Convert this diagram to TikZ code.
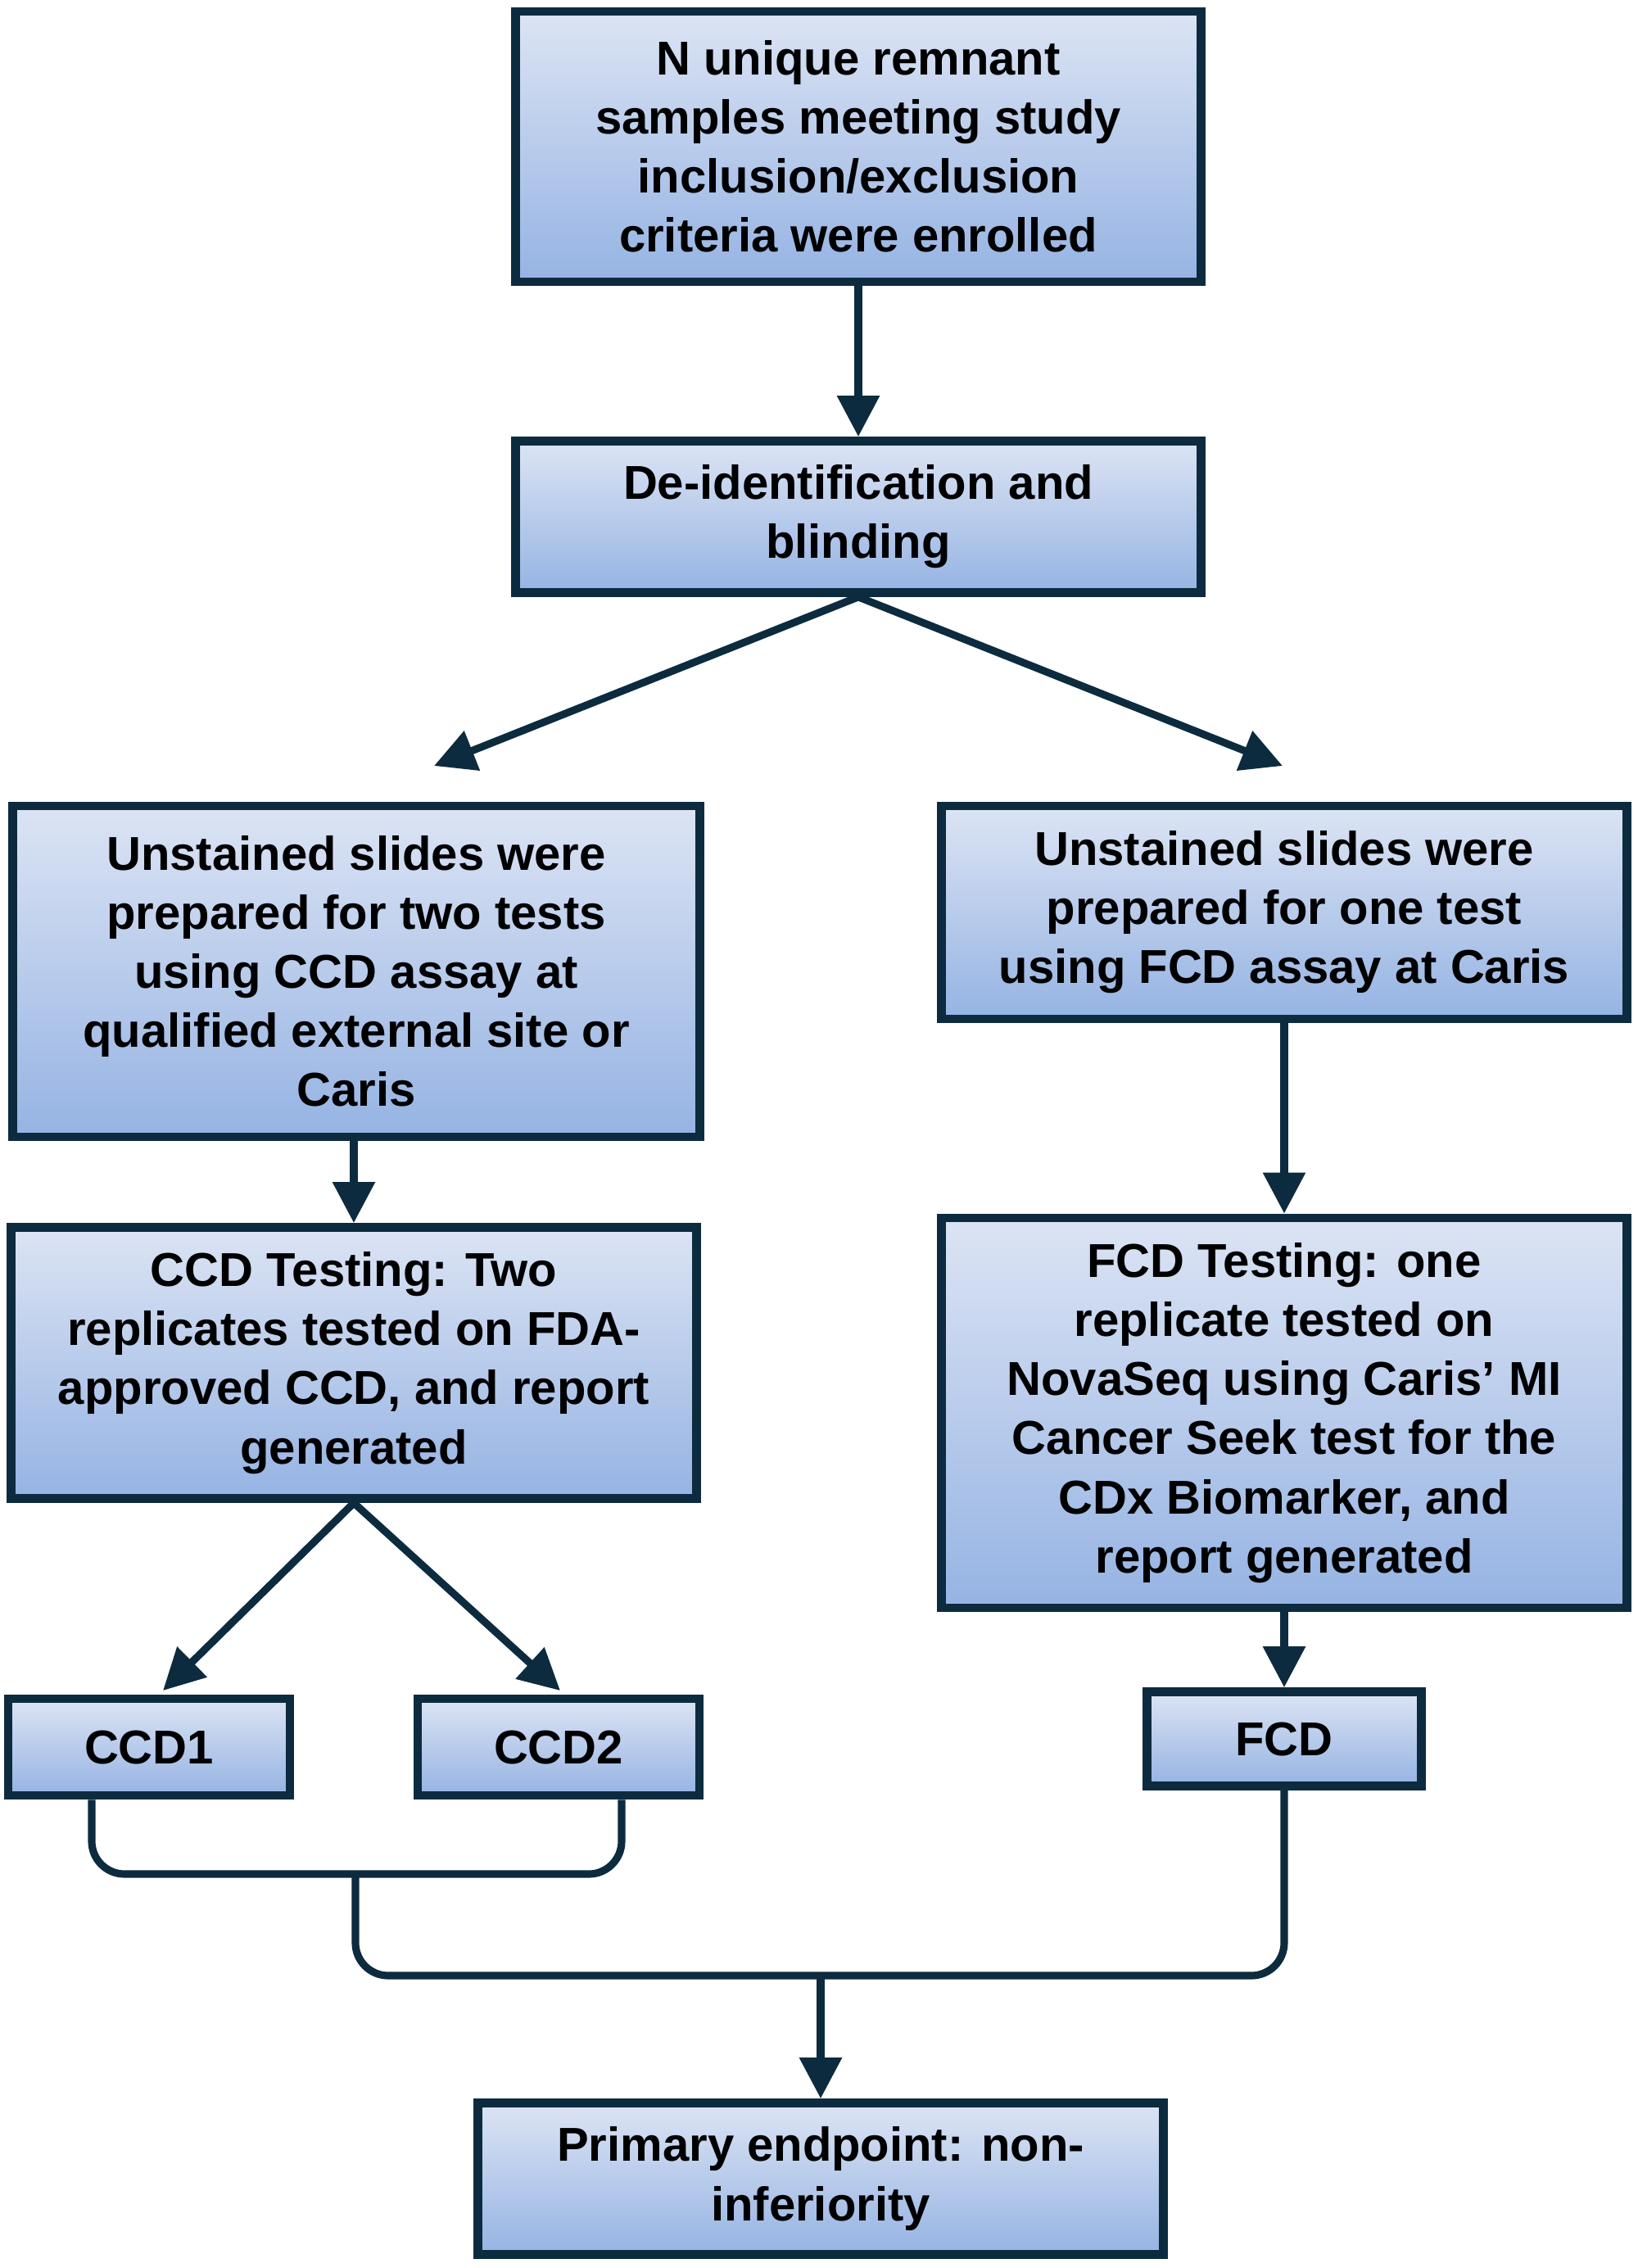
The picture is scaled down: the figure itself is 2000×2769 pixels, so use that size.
\documentclass[tikz,border=0pt]{standalone}
\usepackage{fontspec}
\setmainfont{Liberation Sans}
\usetikzlibrary{positioning}
\usetikzlibrary{arrows.meta}
\usetikzlibrary{calc}
\definecolor{navy}{HTML}{0D2B3E}
\definecolor{boxtop}{HTML}{DCE4F4}
\definecolor{boxbot}{HTML}{95B3E3}
\tikzset{>={Triangle[length=5mm,width=5mm]}}
\tikzstyle{stepnode}=[draw=navy,line width=3pt,shape=rectangle,top color=boxtop,bottom color=boxbot,align=center,font=\fontsize{16.5}{20.5}\selectfont\bfseries,inner sep=0pt]
\tikzstyle{taro}=[->,line width=2.6pt,color=navy]
\tikzstyle{joinline}=[line width=2.6pt,color=navy,rounded corners=4mm]
\begin{document}
\begin{tikzpicture}[x=0.01cm,y=-0.01cm]
	\useasboundingbox (0,0) rectangle (2000,2769);

	% Top part
	\node[stepnode,minimum width=8.36cm,minimum height=3.3cm] (enrol) at (1048,179) {N unique remnant\\samples meeting study\\inclusion/exclusion\\criteria were enrolled};
	\node[stepnode,minimum width=8.36cm,minimum height=1.85cm] (blind) at (1048,631) {De-identification and\\blinding};
	\draw[taro] (enrol) -- (blind);
	\coordinate (lsplit) at (530,935);
	\coordinate (rsplit) at (1566,935);
	\draw[taro] (blind.south) -- (lsplit);
	\draw[taro] (blind.south) -- (rsplit);

	% CCD side
	\node[stepnode,minimum width=8.38cm,minimum height=4.04cm] (ccdprep) at (435,1186) {Unstained slides were\\prepared for two tests\\using CCD assay at\\qualified external site or\\Caris};
	\node[stepnode,minimum width=8.36cm,minimum height=3.31cm] (ccdtest) at (432,1664) {CCD Testing: Two\\replicates tested on FDA-\\approved CCD, and report\\generated};
	\draw[taro] (ccdprep.south -| ccdtest) -- (ccdtest.north);
	\node[stepnode,minimum width=3.44cm,minimum height=1.18cm] (ccda) at (182,2133) {CCD1};
	\node[stepnode,minimum width=3.44cm,minimum height=1.18cm] (ccdb) at (682,2133) {CCD2};
	\coordinate (ccdatip) at (199,2064);
	\coordinate (ccdbtip) at (684,2064);
	\draw[taro] (ccdtest.south) -- (ccdatip);
	\draw[taro] (ccdtest.south) -- (ccdbtip);

	% FCD side
	\node[stepnode,minimum width=8.36cm,minimum height=2.6cm] (fcdprep) at (1568,1114) {Unstained slides were\\prepared for one test\\using FCD assay at Caris};
	\node[stepnode,minimum width=8.36cm,minimum height=4.76cm] (fcdtest) at (1568,1725) {FCD Testing: one\\replicate tested on\\NovaSeq using Caris’ MI\\Cancer Seek test for the\\CDx Biomarker, and\\report generated};
	\node[stepnode,minimum width=3.35cm,minimum height=1.15cm] (fcd) at (1568,2123) {FCD};
	\draw[taro] (fcdprep) -- (fcdtest);
	\draw[taro] (fcdtest) -- (fcd);

	% Joining
	\node[stepnode,minimum width=8.36cm,minimum height=1.85cm] (endpt) at (1002,2660) {Primary endpoint: non-\\inferiority};
	\coordinate (ccdmid) at (434,2288);
	\coordinate (allmid) at (1002,2412);
	\draw[joinline] (ccda.south -| 112,0) -- (112,2288) -- (ccdmid) -- (759,2288) -- (ccdb.south -| 759,0);
	\draw[joinline] (ccdmid) -- (434,2412) -- (fcd.south |- allmid) -- (fcd.south);
	\draw[taro] (allmid) -- (endpt);
\end{tikzpicture}
\end{document}
